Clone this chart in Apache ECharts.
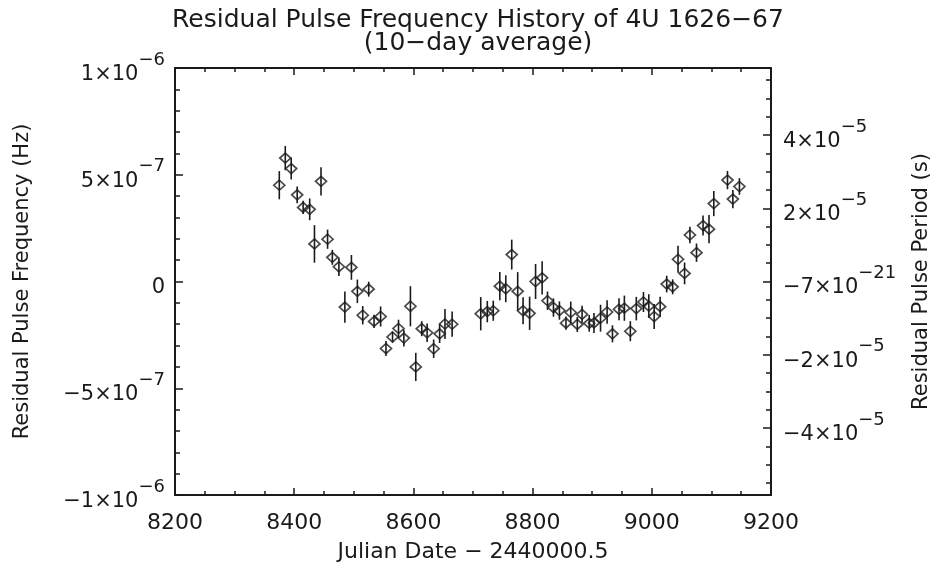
<!DOCTYPE html>
<html><head><meta charset="utf-8">
<script src="https://cdn.jsdelivr.net/npm/echarts@6/dist/echarts.min.js"></script>
<style>html,body{margin:0;padding:0;background:#fff}#c{width:943px;height:571px}</style>
</head><body><div id="c"></div>
<script>
// Julian Date - 2440000.5
const days = [8375,8385,8395,8405,8415,8426,8434,8445,8456,8464,8475,8485,8496,8506,8515,8525,8534,8545,8554,8565,8575,8584,8595,8604,8614,8623,8634,8644,8653,8665,
  8713,8724,8734,8745,8755,8765,8775,8784,8795,8805,8816,8825,8835,8845,8856,8864,8875,8883,8895,8903,8914,8925,8934,8945,8954,8964,8974,8986,8995,9004,9014,9025,9035,9044,9055,9064,9075,9086,9096,9104,9127,9136,9147];
// residual pulse frequency (Hz)
const freq = [4.51e-7,5.78e-7,5.29e-7,4.06e-7,3.47e-7,3.38e-7,1.76e-7,4.69e-7,1.98e-7,1.13e-7,0.69e-7,-1.20e-7,0.66e-7,-0.46e-7,-1.58e-7,-0.36e-7,-1.87e-7,-1.64e-7,-3.14e-7,-2.60e-7,-2.20e-7,-2.65e-7,-1.16e-7,-4.00e-7,-2.21e-7,-2.40e-7,-3.15e-7,-2.45e-7,-1.99e-7,-2.00e-7,
  -1.51e-7,-1.41e-7,-1.37e-7,-0.22e-7,-0.34e-7,1.26e-7,-0.46e-7,-1.37e-7,-1.49e-7,0.00e-7,0.17e-7,-0.90e-7,-1.22e-7,-1.36e-7,-1.95e-7,-1.45e-7,-2.01e-7,-1.54e-7,-1.96e-7,-1.94e-7,-1.72e-7,-1.43e-7,-2.45e-7,-1.30e-7,-1.25e-7,-2.33e-7,-1.27e-7,-0.96e-7,-1.15e-7,-1.64e-7,-1.18e-7,-0.12e-7,-0.25e-7,1.04e-7,0.38e-7,2.18e-7,1.35e-7,2.62e-7,2.45e-7,3.65e-7,4.75e-7,3.86e-7,4.45e-7];
// 1-sigma error (Hz)
const freqErr = [0.66e-7,0.57e-7,0.51e-7,0.39e-7,0.31e-7,0.51e-7,0.88e-7,0.66e-7,0.45e-7,0.35e-7,0.43e-7,0.73e-7,0.58e-7,0.55e-7,0.43e-7,0.35e-7,0.31e-7,0.47e-7,0.35e-7,0.25e-7,0.41e-7,0.39e-7,0.94e-7,0.66e-7,0.35e-7,0.43e-7,0.43e-7,0.43e-7,0.70e-7,0.59e-7,
  0.78e-7,0.50e-7,0.47e-7,0.66e-7,0.63e-7,0.70e-7,0.90e-7,0.63e-7,0.78e-7,0.82e-7,0.78e-7,0.43e-7,0.43e-7,0.43e-7,0.31e-7,0.51e-7,0.35e-7,0.40e-7,0.39e-7,0.47e-7,0.63e-7,0.55e-7,0.40e-7,0.51e-7,0.59e-7,0.47e-7,0.55e-7,0.47e-7,0.55e-7,0.59e-7,0.47e-7,0.39e-7,0.35e-7,0.63e-7,0.51e-7,0.39e-7,0.43e-7,0.47e-7,0.66e-7,0.59e-7,0.43e-7,0.43e-7,0.39e-7];

const leftTickValues = [-1e-6,-5e-7,0,5e-7,1e-6];
const leftTickMant = ['−1×10','−5×10','0','5×10','1×10'];
const leftTickExp = ['−6','−7','','−7','−6'];
const rightTickValues = [-4e-5,-2e-5,0,2e-5,4e-5];
const rightTickMant = ['−4×10','−2×10','−7×10','2×10','4×10'];
const rightTickExp = ['−5','−5','−21','−5','−5'];
const periodRange = 5.83e-5;
const rightMinorStep = 5e-6;

const FONT = 'DejaVu Sans';
const INK = '#1a1a1a';
const rich = {
  m: {fontFamily: FONT, fontSize: 21, color: INK, lineHeight: 34, verticalAlign: 'bottom'},
  e: {fontFamily: FONT, fontSize: 18, color: INK, verticalAlign: 'top'}
};
function labelFor(values, mant, exp) {
  return function (v) {
    let idx = -1;
    for (let i = 0; i < values.length; i++) if (Math.abs(values[i] - v) < Math.abs(values[values.length-1]) * 1e-6) idx = i;
    if (idx < 0) return '';
    return exp[idx] ? '{m|' + mant[idx] + '}{e|' + exp[idx] + '}' : '{m|' + mant[idx] + '}';
  };
}
const rightMinor = [];
for (let k = -11; k <= 11; k++) if (k % 4 !== 0) rightMinor.push(k * rightMinorStep);

const lineStyle = {color: INK, width: 2};
const tickStyle = {color: INK, width: 1.5};

const chart = echarts.init(document.getElementById('c'), null, {renderer: 'canvas'});
chart.setOption({
  backgroundColor: '#fff',
  animation: false,
  title: {
    text: 'Residual Pulse Frequency History of 4U 1626−67\n(10−day average)',
    left: 473, top: 4, textAlign: 'center',
    textStyle: {fontFamily: FONT, fontSize: 25, fontWeight: 'normal', color: INK, lineHeight: 23}
  },
  grid: {left: 175, right: 172, top: 68, bottom: 76, containLabel: false, outerBoundsMode: 'none'},
  xAxis: [{
    type: 'value', min: 8200, max: 9200, interval: 200, position: 'bottom',
    axisLine: {onZero: false, lineStyle: lineStyle},
    axisTick: {inside: true, length: 7, lineStyle: tickStyle},
    minorTick: {show: true, splitNumber: 4, length: 4, lineStyle: tickStyle},
    splitLine: {show: false},
    axisLabel: {margin: 17, fontFamily: FONT, fontSize: 22, color: INK, formatter: v => String(v)},
    name: 'Julian Date − 2440000.5', nameLocation: 'middle', nameGap: 46,
    nameTextStyle: {fontFamily: FONT, fontSize: 22, color: INK}
  }, {
    type: 'value', min: 8200, max: 9200, interval: 200, position: 'top',
    axisLine: {onZero: false, lineStyle: lineStyle},
    axisTick: {inside: true, length: 7, lineStyle: tickStyle},
    minorTick: {show: true, splitNumber: 4, length: 4, lineStyle: tickStyle},
    splitLine: {show: false}, axisLabel: {show: false}
  }],
  yAxis: [{
    type: 'value', min: -1e-6, max: 1e-6, interval: 5e-7, position: 'left',
    axisLine: {onZero: false, lineStyle: lineStyle},
    axisTick: {inside: true, length: 8, lineStyle: tickStyle},
    minorTick: {show: true, splitNumber: 5, length: 5, lineStyle: tickStyle},
    splitLine: {show: false},
    axisLabel: {margin: 10, formatter: labelFor(leftTickValues, leftTickMant, leftTickExp), rich: rich},
    name: 'Residual Pulse Frequency (Hz)', nameLocation: 'middle', nameGap: 142,
    nameTextStyle: {fontFamily: FONT, fontSize: 21, color: INK}
  }, {
    type: 'value', min: -periodRange, max: periodRange, position: 'right',
    axisLine: {onZero: false, lineStyle: lineStyle},
    axisTick: {inside: true, length: 8, lineStyle: tickStyle, customValues: rightTickValues},
    splitLine: {show: false},
    axisLabel: {margin: 12, customValues: rightTickValues, formatter: labelFor(rightTickValues, rightTickMant, rightTickExp), rich: rich},
    name: 'Residual Pulse Period (s)', nameLocation: 'middle', nameGap: 140, nameRotate: 90,
    nameTextStyle: {fontFamily: FONT, fontSize: 21, color: INK, verticalAlign: 'top'}
  }, {
    type: 'value', min: -periodRange, max: periodRange, position: 'right',
    axisLine: {show: false, onZero: false},
    axisTick: {inside: true, length: 5, lineStyle: tickStyle, customValues: rightMinor},
    axisLabel: {show: false}, splitLine: {show: false}
  }],
  series: [{
    type: 'custom', xAxisIndex: 0, yAxisIndex: 0,
    data: days.map((d, i) => [d, freq[i] - freqErr[i], freq[i] + freqErr[i]]),
    renderItem: function (params, api) {
      const p1 = api.coord([api.value(0), api.value(1)]);
      const p2 = api.coord([api.value(0), api.value(2)]);
      return {type: 'line', shape: {x1: p1[0], y1: p1[1], x2: p2[0], y2: p2[1]},
        style: {stroke: INK, lineWidth: 1.6}};
    },
    encode: {x: 0, y: [1, 2]}, z: 2
  }, {
    type: 'scatter', xAxisIndex: 0, yAxisIndex: 0,
    data: days.map((d, i) => [d, freq[i]]),
    symbol: 'diamond', symbolSize: [11, 10],
    itemStyle: {color: 'rgba(255,255,255,0)', borderColor: INK, borderWidth: 1.7},
    z: 3
  }]
});
</script></body></html>
